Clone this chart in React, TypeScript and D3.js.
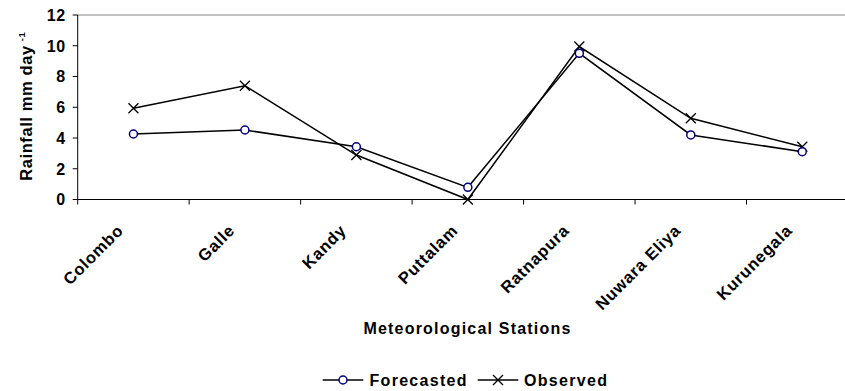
import React from "react";
import * as d3 from "d3";

const stations = ["Colombo", "Galle", "Kandy", "Puttalam", "Ratnapura", "Nuwara Eliya", "Kurunegala"];
const forecasted = [4.26, 4.52, 3.43, 0.79, 9.51, 4.2, 3.11];
const observed = [5.93, 7.4, 2.89, 0.0, 9.95, 5.28, 3.43];
const yTicks = [0, 2, 4, 6, 8, 10, 12];

const W = 845;
const H = 391;
const FONT = "'Liberation Sans', Arial, sans-serif";

export default function App() {
  const left = 77.7;
  const right = 858;
  const top = 15;
  const bottom = 199.5;

  const x = d3.scaleBand<string>().domain(stations).range([left, right]).padding(0);
  const y = d3.scaleLinear().domain([0, 12]).range([bottom, top]);
  const cx = (s: string) => (x(s) as number) + x.bandwidth() / 2;

  const line = d3
    .line<number>()
    .x((_, i) => cx(stations[i]))
    .y((d) => y(d));

  const boundaries = stations.map((s) => x(s) as number);

  const xMark = (px: number, py: number, k: string, s = 5) => (
    <path
      key={k}
      d={`M${px - s},${py - s}L${px + s},${py + s}M${px - s},${py + s}L${px + s},${py - s}`}
      stroke="#000"
      strokeWidth={1.3}
      fill="none"
    />
  );

  return (
    <div style={{ position: "fixed", left: 0, top: 0 }}>
      <svg width={W} height={H} style={{ display: "block", background: "#fff" }} fontFamily={FONT}>
        <rect x={0} y={0} width={W} height={H} fill="#fff" />
        {/* plot top border */}
        <line x1={left} x2={right} y1={top} y2={top} stroke="#888" strokeWidth={1} />
        {/* y axis */}
        <line x1={left} x2={left} y1={top} y2={bottom} stroke="#000" strokeWidth={1} />
        {yTicks.map((t) => (
          <g key={t}>
            <line x1={left - 5} x2={left} y1={y(t)} y2={y(t)} stroke="#000" />
            <text
              x={left - 12}
              y={y(t)}
              dy="0.36em"
              textAnchor="end"
              fontSize={16}
              fontWeight="bold"
              letterSpacing={0.6}
            >
              {t}
            </text>
          </g>
        ))}
        {/* x axis */}
        <line x1={left} x2={right} y1={bottom} y2={bottom} stroke="#000" strokeWidth={1} />
        {boundaries.map((b, i) => (
          <line key={i} x1={b} x2={b} y1={bottom} y2={bottom + 5} stroke="#000" />
        ))}
        {stations.map((s) => (
          <text
            key={s}
            transform={`translate(${cx(s) - 9},${bottom + 32}) rotate(-45)`}
            textAnchor="end"
            fontSize={16.5}
            fontWeight="bold"
            letterSpacing={0.8}
          >
            {s}
          </text>
        ))}
        {/* y title */}
        <text
          transform={`translate(32,${(top + bottom) / 2 - 1}) rotate(-90)`}
          textAnchor="middle"
          fontSize={16.5}
          fontWeight="bold"
          letterSpacing={0.6}
        >
          Rainfall mm day
          <tspan fontSize={9.5} dy={-7} dx={4}>-1</tspan>
        </text>
        {/* x title */}
        <text x={467.5} y={333.5} textAnchor="middle" fontSize={16} fontWeight="bold" letterSpacing={1.2}>
          Meteorological Stations
        </text>
        {/* series lines */}
        <path d={line(forecasted) || ""} fill="none" stroke="#000" strokeWidth={1.5} />
        <path d={line(observed) || ""} fill="none" stroke="#000" strokeWidth={1.5} />
        {observed.map((v, i) => xMark(cx(stations[i]), y(v), "o" + i))}
        {forecasted.map((v, i) => (
          <circle
            key={"f" + i}
            cx={cx(stations[i])}
            cy={y(v)}
            r={4}
            fill="#fff"
            stroke="#000080"
            strokeWidth={1.5}
          />
        ))}
        {/* legend */}
        <g>
          <line x1={322.7} x2={363.3} y1={380} y2={380} stroke="#000" strokeWidth={1.5} />
          <circle cx={343} cy={380} r={4} fill="#fff" stroke="#000080" strokeWidth={1.5} />
          <text x={369.5} y={386} fontSize={16} fontWeight="bold" letterSpacing={1.3}>
            Forecasted
          </text>
          <line x1={477.7} x2={518.3} y1={380} y2={380} stroke="#000" strokeWidth={1.5} />
          {xMark(498, 380, "lx")}
          <text x={524} y={386} fontSize={16} fontWeight="bold" letterSpacing={1.3}>
            Observed
          </text>
        </g>
      </svg>
    </div>
  );
}
